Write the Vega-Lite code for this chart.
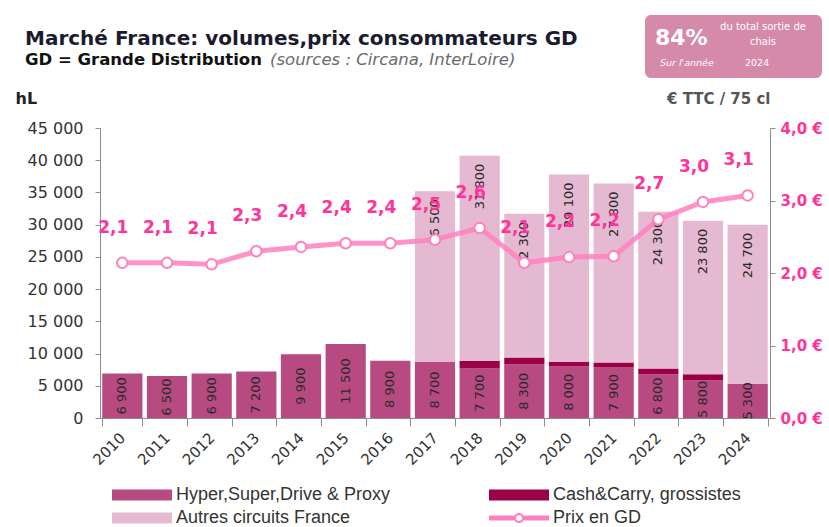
{
  "$schema": "https://vega.github.io/schema/vega-lite/v6.json",
  "width": 670,
  "height": 290,
  "autosize": {"type": "none"},
  "padding": {"left": 100, "top": 128, "right": 59, "bottom": 109},
  "background": "white",
  "config": {
    "locale": {"number": {"decimal": ",", "thousands": " ", "grouping": [3], "currency": ["", " €"]}},
    "view": {"stroke": null},
    "font": "DejaVu Sans"
  },
  "title": {
    "text": "Marché France: volumes,prix consommateurs GD",
    "subtitle": "GD = Grande Distribution",
    "anchor": "start",
    "frame": "group",
    "dx": -75,
    "offset": -53,
    "font": "DejaVu Sans",
    "fontSize": 20,
    "fontWeight": "bold",
    "color": "#1b1b2f",
    "subtitleFont": "DejaVu Sans",
    "subtitleFontSize": 16.5,
    "subtitleFontWeight": "bold",
    "subtitleColor": "#111111",
    "subtitlePadding": 3
  },
  "datasets": {
    "vol": [
      {"year": 2010, "series": "Hyper,Super,Drive & Proxy", "value": 6900},
      {"year": 2011, "series": "Hyper,Super,Drive & Proxy", "value": 6500},
      {"year": 2012, "series": "Hyper,Super,Drive & Proxy", "value": 6900},
      {"year": 2013, "series": "Hyper,Super,Drive & Proxy", "value": 7200},
      {"year": 2014, "series": "Hyper,Super,Drive & Proxy", "value": 9900},
      {"year": 2015, "series": "Hyper,Super,Drive & Proxy", "value": 11500},
      {"year": 2016, "series": "Hyper,Super,Drive & Proxy", "value": 8900},
      {"year": 2017, "series": "Hyper,Super,Drive & Proxy", "value": 8700},
      {"year": 2018, "series": "Hyper,Super,Drive & Proxy", "value": 7700},
      {"year": 2019, "series": "Hyper,Super,Drive & Proxy", "value": 8300},
      {"year": 2020, "series": "Hyper,Super,Drive & Proxy", "value": 8000},
      {"year": 2021, "series": "Hyper,Super,Drive & Proxy", "value": 7900},
      {"year": 2022, "series": "Hyper,Super,Drive & Proxy", "value": 6800},
      {"year": 2023, "series": "Hyper,Super,Drive & Proxy", "value": 5800},
      {"year": 2024, "series": "Hyper,Super,Drive & Proxy", "value": 5300},
      {"year": 2018, "series": "Cash&Carry, grossistes", "value": 1200},
      {"year": 2019, "series": "Cash&Carry, grossistes", "value": 1100},
      {"year": 2020, "series": "Cash&Carry, grossistes", "value": 700},
      {"year": 2021, "series": "Cash&Carry, grossistes", "value": 700},
      {"year": 2022, "series": "Cash&Carry, grossistes", "value": 900},
      {"year": 2023, "series": "Cash&Carry, grossistes", "value": 1000},
      {"year": 2017, "series": "Autres circuits France", "value": 26500},
      {"year": 2018, "series": "Autres circuits France", "value": 31800},
      {"year": 2019, "series": "Autres circuits France", "value": 22300},
      {"year": 2020, "series": "Autres circuits France", "value": 29100},
      {"year": 2021, "series": "Autres circuits France", "value": 27800},
      {"year": 2022, "series": "Autres circuits France", "value": 24300},
      {"year": 2023, "series": "Autres circuits France", "value": 23800},
      {"year": 2024, "series": "Autres circuits France", "value": 24700}
    ],
    "prix": [
      {"year": 2010, "prix": 2.14},
      {"year": 2011, "prix": 2.14},
      {"year": 2012, "prix": 2.12},
      {"year": 2013, "prix": 2.30},
      {"year": 2014, "prix": 2.36},
      {"year": 2015, "prix": 2.41},
      {"year": 2016, "prix": 2.41},
      {"year": 2017, "prix": 2.46},
      {"year": 2018, "prix": 2.62},
      {"year": 2019, "prix": 2.14},
      {"year": 2020, "prix": 2.22},
      {"year": 2021, "prix": 2.23},
      {"year": 2022, "prix": 2.74},
      {"year": 2023, "prix": 2.98},
      {"year": 2024, "prix": 3.07}
    ]
  },
  "layer": [
    {
      "data": {"name": "vol"},
      "layer": [
        {
          "mark": {"type": "bar"},
          "encoding": {
            "x": {
              "field": "year", "type": "ordinal",
              "scale": {"paddingInner": 0.1, "paddingOuter": 0.05},
              "axis": {
                "title": null, "labelAngle": -45, "labelAlign": "right", "labelBaseline": "middle",
                "tickBand": "extent", "labelFont": "DejaVu Sans", "labelFontSize": 15, "labelColor": "#333333",
                "domainColor": "#8c8c8c", "tickColor": "#8c8c8c", "tickSize": 8, "labelPadding": 9
              }
            },
            "y": {
              "field": "value", "type": "quantitative", "stack": "zero",
              "scale": {"domain": [0, 45000]},
              "axis": {
                "values": [0, 5000, 10000, 15000, 20000, 25000, 30000, 35000, 40000, 45000],
                "format": ",.0f", "grid": false, "labelOverlap": false,
                "labelFont": "DejaVu Sans", "labelFontSize": 16, "labelColor": "#333333",
                "domainColor": "#8c8c8c", "tickColor": "#8c8c8c", "tickSize": 5, "labelPadding": 12,
                "title": "hL", "titleAngle": 0, "titleX": -85, "titleY": -30, "titleAlign": "left",
                "titleBaseline": "middle", "titleFont": "DejaVu Sans", "titleFontSize": 16, "titleFontWeight": "bold", "titleColor": "#222222"
              }
            },
            "color": {
              "field": "series", "type": "nominal",
              "scale": {
                "domain": ["Hyper,Super,Drive & Proxy", "Cash&Carry, grossistes", "Autres circuits France", "Prix en GD"],
                "range": ["#b74a81", "#9b0047", "#e5b9d1", "#ff80bf"]
              },
              "legend": {
                "orient": "none", "legendX": 12, "legendY": 358, "direction": "horizontal", "columns": 2,
                "title": null, "labelFont": "Liberation Sans", "labelFontSize": 18, "labelColor": "#333333", "labelLimit": 400,
                "symbolSize": 3600, "clipHeight": 18, "rowPadding": 5, "columnPadding": 98, "labelOffset": 4,
                "encode": {
                  "symbols": {
                    "update": {
                      "shape": {"signal": "datum.value === 'Prix en GD' ? 'M-1,-0.08H-0.16V0.08H-1Z M0.16,-0.08H1V0.08H0.16Z M0.17,0A0.17,0.17 0 1,1 -0.17,0A0.17,0.17 0 1,1 0.17,0Z M0.1,0A0.1,0.1 0 1,0 -0.1,0A0.1,0.1 0 1,0 0.1,0Z' : 'M-1,-0.18H1V0.18H-1Z'"},
                      "fill": {"scale": "color", "field": "value"},
                      "stroke": {"value": "transparent"},
                      "strokeWidth": {"value": 0},
                      "opacity": {"value": 1}
                    }
                  }
                }
              }
            },
            "order": {"field": "series", "sort": "descending"}
          }
        },
        {
          "transform": [
            {"filter": "datum.series === 'Hyper,Super,Drive & Proxy'"},
            {"calculate": "datum.value / 2", "as": "mid"}
          ],
          "mark": {"type": "text", "angle": 270, "align": "center", "baseline": "middle", "font": "DejaVu Sans", "fontSize": 13, "color": "#2a2a2a"},
          "encoding": {
            "x": {"field": "year", "type": "ordinal"},
            "y": {
              "field": "mid", "type": "quantitative",
              "axis": {
                "values": [0, 5000, 10000, 15000, 20000, 25000, 30000, 35000, 40000, 45000],
                "format": ",.0f", "grid": false, "labelOverlap": false,
                "labelFont": "DejaVu Sans", "labelFontSize": 16, "labelColor": "#333333",
                "domainColor": "#8c8c8c", "tickColor": "#8c8c8c", "tickSize": 5, "labelPadding": 12,
                "title": "hL", "titleAngle": 0, "titleX": -85, "titleY": -30, "titleAlign": "left",
                "titleBaseline": "middle", "titleFont": "DejaVu Sans", "titleFontSize": 16, "titleFontWeight": "bold", "titleColor": "#222222"
              }
            },
            "text": {"field": "value", "type": "quantitative", "format": ",.0f"}
          }
        },
        {
          "transform": [
            {"joinaggregate": [{"op": "sum", "field": "value", "as": "total"}], "groupby": ["year"]},
            {"filter": "datum.series === 'Autres circuits France'"}
          ],
          "mark": {"type": "text", "angle": 270, "align": "right", "baseline": "middle", "dx": -8, "font": "DejaVu Sans", "fontSize": 13, "color": "#2a2a2a"},
          "encoding": {
            "x": {"field": "year", "type": "ordinal"},
            "y": {
              "field": "total", "type": "quantitative",
              "axis": {
                "values": [0, 5000, 10000, 15000, 20000, 25000, 30000, 35000, 40000, 45000],
                "format": ",.0f", "grid": false, "labelOverlap": false,
                "labelFont": "DejaVu Sans", "labelFontSize": 16, "labelColor": "#333333",
                "domainColor": "#8c8c8c", "tickColor": "#8c8c8c", "tickSize": 5, "labelPadding": 12,
                "title": "hL", "titleAngle": 0, "titleX": -85, "titleY": -30, "titleAlign": "left",
                "titleBaseline": "middle", "titleFont": "DejaVu Sans", "titleFontSize": 16, "titleFontWeight": "bold", "titleColor": "#222222"
              }
            },
            "text": {"field": "value", "type": "quantitative", "format": ",.0f"}
          }
        }
      ]
    },
    {
      "data": {"name": "prix"},
      "encoding": {
        "x": {"field": "year", "type": "ordinal"},
        "y": {
          "field": "prix", "type": "quantitative",
          "scale": {"domain": [0, 4]},
          "axis": {
            "orient": "right", "values": [0, 1, 2, 3, 4], "format": "$.1f", "grid": false,
            "labelFont": "DejaVu Sans", "labelFontSize": 15, "labelFontWeight": "bold", "labelColor": "#ff3399",
            "domainColor": "#8c8c8c", "tickColor": "#8c8c8c", "tickSize": 5, "labelPadding": 5,
            "title": "€ TTC / 75 cl", "titleAngle": 0, "titleX": 0, "titleY": -30, "titleAlign": "right",
            "titleBaseline": "middle", "titleFont": "DejaVu Sans", "titleFontSize": 15, "titleFontWeight": "bold", "titleColor": "#555555"
          }
        }
      },
      "layer": [
        {"mark": {"type": "line", "color": "#ff80bf", "strokeWidth": 5, "opacity": 0.85}},
        {"mark": {"type": "point", "filled": true, "fill": "white", "stroke": "#ff80bf", "strokeWidth": 2, "size": 110, "opacity": 1}},
        {
          "mark": {"type": "text", "dx": -9, "dy": -35, "font": "DejaVu Sans", "fontSize": 17, "fontWeight": "bold", "color": "#ff3399"},
          "encoding": {"text": {"field": "prix", "type": "quantitative", "format": ".1f"}}
        }
      ]
    },
    {
      "data": {"values": [{}]},
      "mark": {"type": "rect", "fill": "#d68aa9", "cornerRadius": 6},
      "encoding": {"x": {"value": 545}, "x2": {"value": 722}, "y": {"value": -113}, "y2": {"value": -50}}
    },
    {
      "data": {"values": [{}]},
      "mark": {"type": "text", "align": "left", "baseline": "middle", "font": "DejaVu Sans", "fontSize": 22, "fontWeight": "bold", "color": "white"},
      "encoding": {"x": {"value": 555}, "y": {"value": -90}, "text": {"value": "84%"}}
    },
    {
      "data": {"values": [{}]},
      "mark": {"type": "text", "align": "center", "baseline": "middle", "font": "DejaVu Sans", "fontSize": 10, "color": "white"},
      "encoding": {"x": {"value": 663}, "y": {"value": -101}, "text": {"value": "du total sortie de"}}
    },
    {
      "data": {"values": [{}]},
      "mark": {"type": "text", "align": "center", "baseline": "middle", "font": "DejaVu Sans", "fontSize": 10, "color": "white"},
      "encoding": {"x": {"value": 663}, "y": {"value": -86}, "text": {"value": "chais"}}
    },
    {
      "data": {"values": [{}]},
      "mark": {"type": "text", "align": "left", "baseline": "middle", "font": "DejaVu Sans", "fontSize": 9.5, "fontStyle": "italic", "color": "white"},
      "encoding": {"x": {"value": 560}, "y": {"value": -65}, "text": {"value": "Sur l'année"}}
    },
    {
      "data": {"values": [{}]},
      "mark": {"type": "text", "align": "left", "baseline": "middle", "font": "DejaVu Sans", "fontSize": 9.5, "color": "white"},
      "encoding": {"x": {"value": 645}, "y": {"value": -65}, "text": {"value": "2024"}}
    },
    {
      "data": {"values": [{}]},
      "mark": {"type": "text", "align": "left", "baseline": "middle", "font": "DejaVu Sans", "fontSize": 16.5, "fontStyle": "italic", "color": "#6b6b6b"},
      "encoding": {"x": {"value": 170}, "y": {"value": -68}, "text": {"value": "(sources : Circana, InterLoire)"}}
    }
  ],
  "resolve": {"scale": {"y": "independent"}}
}
